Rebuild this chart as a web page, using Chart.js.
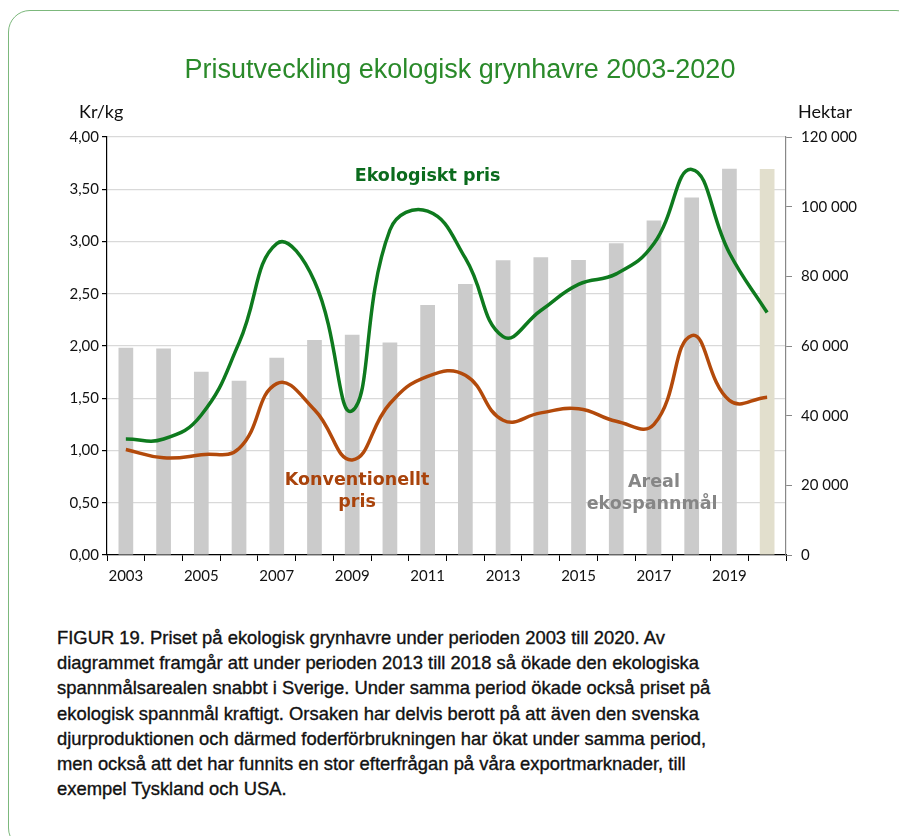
<!DOCTYPE html>
<html lang="sv">
<head>
<meta charset="utf-8">
<title>Prisutveckling ekologisk grynhavre 2003-2020</title>
<script src="https://cdn.jsdelivr.net/npm/chart.js@4.4.1/dist/chart.umd.min.js"></script>
<style>
  html, body { margin: 0; padding: 0; background: #fff; width: 899px; height: 836px; overflow: hidden; }
  #frame {
    position: absolute; left: 8px; top: 10px; width: 910px; height: 840px;
    border: 1.5px solid #7cb87c; border-radius: 22px; box-sizing: border-box;
  }
  #wrap { position: absolute; left: 0; top: 0; width: 899px; height: 600px; }
  #caption {
    position: absolute; left: 57px; top: 625px;
    font-family: "Liberation Sans", Arial, sans-serif; font-size: 18.4px; line-height: 25.2px;
    color: #111; -webkit-text-stroke: 0.35px #111;
  }
</style>
</head>
<body>
<div id="frame"></div>
<div id="wrap"><canvas id="my_chart" width="899" height="600"></canvas></div>
<div id="caption">FIGUR 19. Priset på ekologisk grynhavre under perioden 2003 till 2020. Av<br>diagrammet framgår att under perioden 2013 till 2018 så ökade den ekologiska<br>spannmålsarealen snabbt i Sverige. Under samma period ökade också priset på<br>ekologisk spannmål kraftigt. Orsaken har delvis berott på att även den svenska<br>djurproduktionen och därmed foderförbrukningen har ökat under samma period,<br>men också att det har funnits en stor efterfrågan på våra exportmarknader, till<br>exempel Tyskland och USA.</div>
<script>
'use strict';

// år
const years = [
  '2003', '2004', '2005', '2006', '2007', '2008', '2009', '2010', '2011',
  '2012', '2013', '2014', '2015', '2016', '2017', '2018', '2019', '2020',
];

// Ekologiskt pris (kr/kg)
const ekoPris = [1.11, 1.11, 1.34, 2.03, 2.98, 2.62, 1.38, 3.11, 3.29,
  2.84, 2.09, 2.34, 2.59, 2.69, 2.98, 3.69, 2.89, 2.32];

// Konventionellt pris (kr/kg)
const konvPris = [1.01, 0.93, 0.96, 1.02, 1.64, 1.39, 0.91, 1.45, 1.71,
  1.72, 1.29, 1.36, 1.40, 1.28, 1.25, 2.10, 1.48, 1.51];

// Areal ekospannmål (hektar)
const areal = [59500, 59300, 52600, 50000, 56600, 61700, 63200, 61000, 71800,
  77800, 84600, 85500, 84700, 89500, 96000, 102600, 110900, 110800];

// axlar
const prisTicks = [0, 0.5, 1, 1.5, 2, 2.5, 3, 3.5, 4];
const arealTicks = [0, 20000, 40000, 60000, 80000, 100000, 120000];

(function () {
  const tickFont = { family: 'Lato, "DejaVu Sans", sans-serif', size: 15 };
  const boldFont = 'bold 17.5px "DejaVu Sans", sans-serif';

  // 2020 har en annan färg
  const barColors = areal.map((v, i) => (i === areal.length - 1 ? '#e2dfcd' : '#cbcbcb'));

  // texter i diagrammet
  const labelPlugin = {
    id: 'labels',
    afterDatasetsDraw(chart) {
      const ctx = chart.ctx;
      const x = chart.scales.x;
      const y = chart.scales.y;
      ctx.save();
      ctx.textAlign = 'center';
      ctx.textBaseline = 'middle';
      ctx.font = boldFont;

      ctx.fillStyle = '#0b6b1d';
      ctx.fillText('Ekologiskt pris', x.getPixelForValue(8), y.getPixelForValue(3.62));

      ctx.fillStyle = '#a9430b';
      ctx.fillText('Konventionellt', x.getPixelForValue(6.13), y.getPixelForValue(0.71));
      ctx.fillText('pris', x.getPixelForValue(6.13), y.getPixelForValue(0.50));

      ctx.fillStyle = '#868686';
      ctx.fillText('Areal', x.getPixelForValue(14), y.getPixelForValue(0.69));
      ctx.fillText('ekospannmål', x.getPixelForValue(13.95), y.getPixelForValue(0.48));
      ctx.restore();
    },
    afterDraw(chart) {
      const ctx = chart.ctx;
      ctx.save();
      ctx.textBaseline = 'middle';
      ctx.textAlign = 'center';
      ctx.fillStyle = '#2a8a2a';
      ctx.font = '27px "Liberation Sans", Arial, sans-serif';
      ctx.fillText('Prisutveckling ekologisk grynhavre 2003-2020', 460, 71);

      ctx.fillStyle = '#111';
      ctx.font = '18px Lato, sans-serif';
      ctx.textAlign = 'left';
      ctx.fillText('Kr/kg', 79, 112);
      ctx.fillText('Hektar', 798, 112);
      ctx.restore();
    },
  };

  const data = {
    labels: years,
    datasets: [
      {
        type: 'line',
        label: 'Ekologiskt pris',
        data: ekoPris,
        yAxisID: 'y',
        borderColor: '#0e7a1e',
        borderWidth: 3.5,
        pointRadius: 0,
        tension: 0.45,
        fill: false,
      },
      {
        type: 'line',
        label: 'Konventionellt pris',
        data: konvPris,
        yAxisID: 'y',
        borderColor: '#b34a0b',
        borderWidth: 3.5,
        pointRadius: 0,
        tension: 0.45,
        fill: false,
      },
      {
        type: 'bar',
        label: 'Areal ekospannmål',
        data: areal,
        yAxisID: 'y1',
        backgroundColor: barColors,
        categoryPercentage: 1,
        barPercentage: 0.39,
      },
    ],
  };

  const options = {
    responsive: false,
    animation: false,
    layout: { padding: { top: 137, left: 0, right: 0, bottom: 0 } },
    plugins: {
      legend: { display: false },
      tooltip: { enabled: false },
      title: { display: false },
    },
    scales: {
      x: {
        offset: true,
        grid: {
          offset: true,
          drawOnChartArea: false,
          color: '#000',
          tickLength: 6,
        },
        border: { color: '#000', width: 1.2 },
        ticks: {
          autoSkip: false,
          maxRotation: 0,
          color: '#111',
          font: tickFont,
          padding: 6,
          callback: function (value, index) {
            return index % 2 === 0 ? years[index] : '';
          },
        },
        afterFit: function (scale) { scale.height = 45; },
      },
      y: {
        position: 'left',
        min: 0,
        max: 4,
        afterBuildTicks: function (scale) {
          scale.ticks = prisTicks.map(v => ({ value: v }));
        },
        grid: { color: '#d9d9d9', tickColor: '#000', tickLength: 5, lineWidth: 1.2 },
        border: { color: '#000', width: 1.2 },
        ticks: {
          color: '#111',
          font: tickFont,
          padding: 3,
          callback: function (value) {
            return value.toFixed(2).replace('.', ',');
          },
        },
        afterFit: function (scale) { scale.width = 107; },
      },
      y1: {
        position: 'right',
        min: 0,
        max: 120000,
        afterBuildTicks: function (scale) {
          scale.ticks = arealTicks.map(v => ({ value: v }));
        },
        grid: { drawOnChartArea: false, color: '#888', tickLength: 6 },
        border: { color: '#888', width: 1.2 },
        ticks: {
          color: '#111',
          font: tickFont,
          padding: 9,
          callback: function (value) {
            return String(value).replace(/\B(?=(\d{3})+(?!\d))/g, ' ');
          },
        },
        afterFit: function (scale) { scale.width = 113; },
      },
    },
  };

  const ctx = document.getElementById('my_chart').getContext('2d');
  new Chart(ctx, {
    type: 'bar',
    data: data,
    options: options,
    plugins: [labelPlugin],
  });
})();
</script>
</body>
</html>
